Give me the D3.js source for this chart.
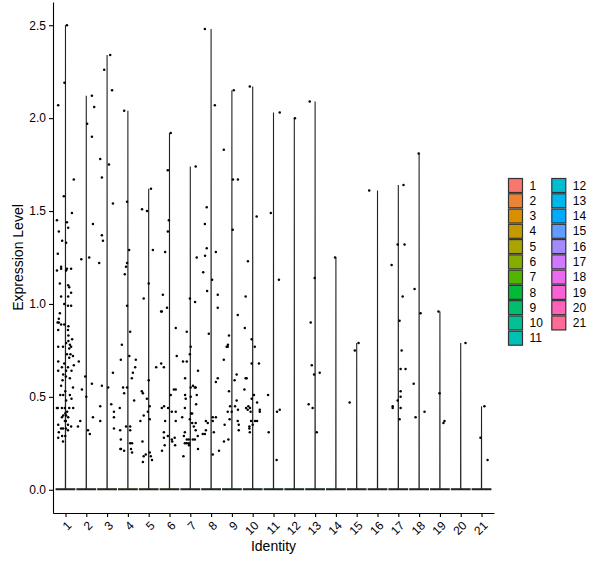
<!DOCTYPE html>
<html>
<head>
<meta charset="utf-8">
<script src="https://cdn.jsdelivr.net/npm/d3@7"></script>
<style>
  body { margin: 0; background: #fff; }
  text { font-family: "Liberation Sans", Arial, sans-serif; }
</style>
</head>
<body>
<svg id="vln"></svg>
<script>
// identity levels
const identities = ["1","2","3","4","5","6","7","8","9","10","11","12","13","14","15","16","17","18","19","20","21"];
const yTicks = [0, 0.5, 1, 1.5, 2, 2.5];

// non-zero cells per identity: [expression, jitter (fraction of band step)]
const id1 = [[2.50,.07],[2.19,-.05],[2.07,-.35],[1.67,.40],[1.58,-.08],[1.49,.31],[1.45,-.41],[1.44,.07],[1.41,.13],[1.39,-.32],
  [1.34,-.16],[1.33,.03],[1.27,-.37],[1.20,-.21],[1.19,-.21],[1.18,-.41],[1.19,.07],[1.18,.03],[1.19,.27],[1.11,-.27],
  [1.10,.13],[1.09,.18],[1.06,.27],[1.04,-.21],[1.04,.13],[1.00,-.06],[0.99,.12],[0.99,.27],[0.95,-.27],[0.92,-.32],
  [0.90,-.38],[0.90,-.32],[0.89,-.21],[0.89,-.06],[0.86,-.35],[0.88,.14],[0.86,.12],[0.83,.14],[0.81,.32],[0.80,.14],
  [0.79,.03],[0.78,.21],[0.77,-.35],[0.77,-.12],[0.77,.27],[0.76,.18],[0.73,.07],[0.73,.24],[0.72,.36],[0.71,.18],
  [0.69,-.35],[0.68,-.06],[0.67,.40],[0.66,.12],[0.66,-.17],[0.64,.29],[0.64,.03],[0.64,-.35],[0.62,-.11],[0.61,.02],
  [0.60,.21],[0.59,-.14],[0.56,-.21],[0.55,.36],[0.53,-.01],[0.51,-.25],[0.51,-.11],[0.51,.21],[0.49,.29],[0.48,.03],
  [0.44,-.41],[0.44,-.37],[0.44,-.17],[0.44,-.03],[0.44,.18],[0.44,.37],[0.42,.08],[0.41,-.01],[0.40,-.11],[0.40,.03],
  [0.39,.13],[0.39,-.17],[0.37,-.03],[0.37,.02],[0.35,-.35],[0.35,.12],[0.34,.27],[0.33,-.21],[0.33,-.12],[0.33,.02],
  [0.32,.12],[0.31,-.32],[0.29,-.01],[0.28,-.35],[0.29,-.16],[0.26,-.12]];
const id2 = [[2.12,.27],[2.06,.38],[1.97,.04],[1.90,.27],[1.43,.32],[1.25,.14],[1.24,-.24],[0.69,-.36],[0.61,-.05],[0.57,.27],
  [0.54,-.21],[0.50,0],[0.39,.32],[0.37,-.29],[0.34,-.40],[0.32,.08],[0.30,.17]];
const id3 = [[2.34,.15],[2.26,-.14],[2.15,.24],[1.78,-.33],[1.75,.09],[1.68,-.25],[1.54,.28],[1.37,-.25],[1.34,-.20],[1.22,-.38],
  [0.63,.28],[0.56,-.25],[0.55,.05],[0.45,-.33],[0.46,.20],[0.42,.33],[0.39,.33],[0.37,-.33],[0.33,.33]];
const id4 = [[2.04,-.18],[1.55,-.04],[1.29,.06],[1.22,-.04],[1.20,-.09],[1.16,-.15],[0.99,-.04],[0.85,.11],[0.78,-.29],[0.70,-.34],
  [0.72,.07],[0.70,.38],[0.66,.35],[0.63,.24],[0.60,.19],[0.55,-.23],[0.55,-.04],[0.52,-.18],[0.48,.30],[0.44,-.39],
  [0.34,-.09],[0.34,.11],[0.32,-.37],[0.32,.11],[0.27,-.34],[0.25,.11],[0.25,.20],[0.22,-.33],[0.22,-.36],[0.21,-.18],
  [0.22,.15],[0.20,.20]];
const id5 = [[1.62,.11],[1.51,-.32],[1.50,-.08],[1.29,.20],[1.11,0],[1.03,-.24],[0.66,.36],[0.59,0],[0.53,-.33],[0.52,-.28],
  [0.49,-.09],[0.45,.05],[0.42,-.04],[0.40,-.24],[0.37,-.40],[0.38,.05],[0.26,-.30],[0.19,-.14],[0.18,-.24],[0.15,-.28],
  [0.20,.05],[0.18,.10],[0.16,.16]];
const id6 = [[1.92,.06],[1.72,-.08],[1.45,-.03],[1.39,-.08],[1.28,-.21],[1.05,-.32],[0.98,-.12],[0.96,-.40],[0.96,-.37],[0.87,.30],
  [0.72,.35],[0.68,-.40],[0.66,-.27],[0.54,.30],[0.54,.21],[0.51,.06],[0.45,-.26],[0.44,-.37],[0.44,-.07],[0.42,.11],
  [0.42,.30],[0.37,-.21],[0.37,.30],[0.31,-.27],[0.28,-.27],[0.29,-.08],[0.27,.11],[0.28,.25],[0.24,-.23],[0.21,-.36],
  [0.26,.13],[0.24,.27]];
const id7 = [[1.74,.26],[1.25,.31],[1.03,-.02],[1.01,.23],[0.85,-.17],[0.77,.02],[0.73,-.02],[0.69,-.35],[0.69,-.17],[0.64,.37],
  [0.60,-.25],[0.56,.13],[0.55,.22],[0.55,.26],[0.55,.02],[0.51,-.25],[0.51,.31],[0.49,-.22],[0.50,.02],[0.46,.28],
  [0.44,-.26],[0.41,.04],[0.41,.09],[0.39,-.39],[0.38,-.02],[0.36,.09],[0.36,.26],[0.34,.17],[0.32,.26],[0.31,-.26],
  [0.29,.36],[0.29,-.31],[0.27,-.17],[0.27,-.07],[0.27,.12],[0.27,.22],[0.25,-.26],[0.25,-.17],[0.25,-.07],[0.18,-.33],
  [0.24,-.06],[0.22,.37]];
const id8 = [[2.48,-.30],[2.07,.18],[1.52,-.21],[1.43,-.30],[1.30,-.21],[1.28,.23],[1.26,-.29],[1.17,-.38],[1.13,.05],[1.07,-.19],
  [1.05,.32],[0.98,.32],[0.84,-.11],[0.60,.32],[0.58,.23],[0.37,-.25],[0.36,-.16],[0.39,.08],[0.39,.23],[0.37,.08],
  [0.32,-.25],[0.31,.13],[0.30,-.40],[0.30,-.30],[0.19,.08],[0.21,.38]];
const id9 = [[2.15,.09],[1.83,-.39],[1.67,.05],[1.67,.29],[1.40,.04],[0.94,.28],[0.83,-.14],[0.78,-.19],[0.77,-.20],[0.77,-.25],
  [0.70,-.39],[0.62,.23],[0.59,.13],[0.53,-.14],[0.48,.23],[0.45,-.09],[0.42,-.20],[0.42,-.01],[0.45,.15],[0.43,.29],
  [0.38,-.11],[0.37,.28],[0.35,-.35],[0.35,.33],[0.32,.33],[0.26,-.38],[0.27,-.17]];
const id10 = [[2.17,-.14],[1.47,.19],[1.23,-.23],[1.04,-.34],[0.87,-.38],[0.81,-.05],[0.77,.10],[0.68,-.05],[0.68,.30],[0.60,-.29],
  [0.60,-.34],[0.54,-.40],[0.51,.06],[0.49,-.05],[0.47,.21],[0.44,-.32],[0.45,-.21],[0.44,-.13],[0.43,-.24],[0.42,-.10],
  [0.43,.34],[0.42,.34],[0.37,-.08],[0.37,.11],[0.37,.21],[0.34,-.16],[0.35,0],[0.33,-.16],[0.31,-.14]];
const id11 = [[2.03,.30],[1.49,-.13],[1.13,.26],[0.51,-.26],[0.43,.30],[0.42,.17],[0.31,-.23],[0.16,.15]];
const id12 = [[2.00,.03]];
const id13 = [[2.09,-.26],[1.14,-.02],[0.90,-.21],[0.67,-.16],[0.62,-.05],[0.63,.22],[0.46,-.31],[0.44,-.12],[0.31,.08]];
const id14 = [[1.25,-.04]];
const id15 = [[0.79,.09],[0.75,-.09],[0.47,-.34]];
const id16 = [[1.61,-.40]];
const id17 = [[1.64,.25],[1.32,-.03],[1.32,.30],[1.21,-.32],[1.04,.21],[0.91,.06],[0.75,.16],[0.65,.11],[0.65,.35],[0.53,.11],
  [0.50,.11],[0.48,-.03],[0.45,-.27],[0.44,-.27],[0.44,.11],[0.38,.06]];
const id18 = [[1.81,-.02],[1.08,-.22],[0.95,.07],[0.57,-.26],[0.39,-.17],[0.42,.26]];
const id19 = [[0.96,-.07],[0.52,-.02],[0.36,.17],[0.37,.22]];
const id20 = [[0.79,.23]];
const id21 = [[0.45,.14],[0.28,-.05],[0.16,.29]];

const groups = [id1,id2,id3,id4,id5,id6,id7,id8,id9,id10,id11,id12,id13,id14,id15,id16,id17,id18,id19,id20,id21];

// ggplot2 hue palette (polar LUV, c = 100, l = 65)
function hueColor(h, c = 100, l = 65) {
  const hr = h * Math.PI / 180;
  const u = c * Math.cos(hr), v = c * Math.sin(hr);
  const Xn = 95.047, Yn = 100, Zn = 108.883;
  const den = Xn + 15 * Yn + 3 * Zn;
  const un = 4 * Xn / den, vn = 9 * Yn / den;
  const Y = Yn * Math.pow((l + 16) / 116, 3);
  const up = u / (13 * l) + un, vp = v / (13 * l) + vn;
  const X = 9 * Y * up / (4 * vp);
  const Z = Y * (12 - 3 * up - 20 * vp) / (4 * vp);
  const x = X / 100, y = Y / 100, z = Z / 100;
  const lin = [
    3.2404542 * x - 1.5371385 * y - 0.4985314 * z,
    -0.9692660 * x + 1.8760108 * y + 0.0415560 * z,
    0.0556434 * x - 0.2040259 * y + 1.0572252 * z
  ];
  const g = lin.map(t => {
    t = Math.max(0, Math.min(1, t));
    return Math.round(255 * (t <= 0.0031308 ? 12.92 * t : 1.055 * Math.pow(t, 1 / 2.4) - 0.055));
  });
  return d3.rgb(g[0], g[1], g[2]).formatHex();
}
const palette = identities.map((d, i) => hueColor(15 + i * 360 / identities.length));
const color = d3.scaleOrdinal(identities, palette);

const width = 600, height = 568;
const marginLeft = 53, marginRight = 106, marginTop = 2, marginBottom = 55;

const svg = d3.select("#vln")
    .attr("width", width)
    .attr("height", height)
    .attr("viewBox", [0, 0, width, height]);

svg.append("rect").attr("width", width).attr("height", height).attr("fill", "#fff");

const x = d3.scalePoint(identities, [marginLeft, width - marginRight]).padding(0.6);
const step = x.step();

const yMax = d3.max(groups, g => d3.max(g, d => d[0]));
const yPad = yMax * 0.05;
const y = d3.scaleLinear([-yPad, yMax + yPad], [height - marginBottom, marginTop]);

// axes
svg.append("g")
    .attr("transform", `translate(${marginLeft},0)`)
    .call(d3.axisLeft(y).tickValues(yTicks).tickFormat(d3.format(".1f")).tickSize(4).tickSizeOuter(0).tickPadding(3))
    .call(g => g.select(".domain").attr("stroke", "#000").attr("stroke-width", 1.1))
    .call(g => g.selectAll(".tick line").attr("stroke", "#000").attr("stroke-width", 1.1))
    .call(g => g.selectAll(".tick text").attr("fill", "#000").attr("font-size", 12)
        .attr("font-family", "Liberation Sans, Arial, sans-serif"));

svg.append("g")
    .attr("transform", `translate(0,${height - marginBottom})`)
    .call(d3.axisBottom(x).tickSize(4).tickSizeOuter(0))
    .call(g => g.select(".domain").attr("stroke", "#000").attr("stroke-width", 1.1))
    .call(g => g.selectAll(".tick line").attr("stroke", "#000").attr("stroke-width", 1.1))
    .call(g => g.selectAll(".tick text")
        .attr("fill", "#000").attr("font-size", 12)
        .attr("font-family", "Liberation Sans, Arial, sans-serif")
        .attr("x", 0).attr("y", 0).attr("dy", "0.75em")
        .attr("text-anchor", "end")
        .attr("transform", "translate(0,7) rotate(-45)"));

// violins: collapsed at zero (nearly all cells are 0) with a thin tail up to each group's max
const violin = svg.append("g");
groups.forEach((g, i) => {
  const cx = x(identities[i]);
  const hw = step * 0.45;
  const top = d3.max(g, d => d[0]);
  const p = d3.path();
  p.moveTo(cx, y(top));
  p.lineTo(cx - 0.1, y(0.006));
  p.lineTo(cx - hw, y(0.005));
  p.lineTo(cx - hw, y(0));
  p.lineTo(cx + hw, y(0));
  p.lineTo(cx + hw, y(0.005));
  p.lineTo(cx + 0.1, y(0.006));
  p.closePath();
  violin.append("path")
      .attr("d", p.toString())
      .attr("fill", color(identities[i]))
      .attr("stroke", "#222")
      .attr("stroke-width", 1.1)
      .attr("stroke-linejoin", "miter");
});

// jittered cells
const dots = svg.append("g");
groups.forEach((g, i) => {
  dots.selectAll(null)
    .data(g)
    .join("circle")
      .attr("cx", d => x(identities[i]) + d[1] * step)
      .attr("cy", d => y(d[0]))
      .attr("r", 1.25)
      .attr("fill", "#000");
});

// axis titles
svg.append("text")
    .attr("transform", `translate(23,${(marginTop + height - marginBottom) / 2}) rotate(-90)`)
    .attr("text-anchor", "middle")
    .attr("font-size", 14)
    .attr("fill", "#000")
    .text("Expression Level");

svg.append("text")
    .attr("x", (marginLeft + width - marginRight) / 2)
    .attr("y", 551)
    .attr("text-anchor", "middle")
    .attr("font-size", 14)
    .attr("fill", "#000")
    .text("Identity");

// legend, two columns filled top to bottom
const perCol = Math.ceil(identities.length / 2);
const keyPitch = 15.27, keySize = 14;
const legend = svg.append("g").attr("transform", "translate(508.5,178.5)");
const item = legend.selectAll("g")
  .data(identities)
  .join("g")
    .attr("transform", (d, i) => `translate(${Math.floor(i / perCol) * 43.3},${(i % perCol) * keyPitch})`);
item.append("rect")
    .attr("width", keySize)
    .attr("height", keySize)
    .attr("fill", d => color(d))
    .attr("stroke", "#333")
    .attr("stroke-width", 1.2);
item.append("text")
    .attr("x", keySize + 7)
    .attr("y", keySize / 2)
    .attr("dy", "0.35em")
    .attr("font-size", 12)
    .attr("fill", "#000")
    .text(d => d);
</script>
</body>
</html>
